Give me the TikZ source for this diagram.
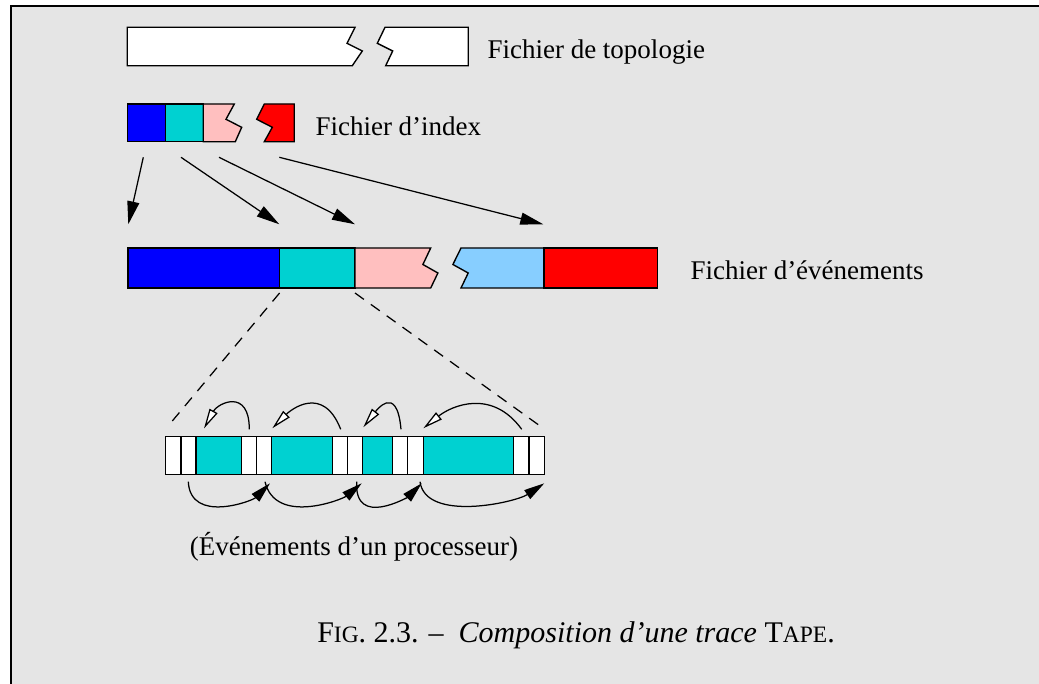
\documentclass[tikz,border=0pt]{standalone}
\usepackage{fontspec}
\setmainfont{Liberation Serif}
\usepackage{tikz}
\usetikzlibrary{calc,arrows.meta}

\definecolor{bggray}{HTML}{E5E5E5}
\definecolor{evblue}{HTML}{0000FF}
\definecolor{evcyan}{HTML}{00D1D1}
\definecolor{evpink}{HTML}{FFBFBF}
\definecolor{evsky}{HTML}{87CEFF}
\definecolor{evred}{HTML}{FF0000}
\newcommand\fakesc[1]{{\fontsize{9.4}{11}\selectfont #1}}

\begin{document}
\begin{tikzpicture}[x=0.4pt,y=-0.4pt,
	piece/.style={draw=black,line width=0.55pt},
	lbl/.style={inner sep=0pt,font=\fontsize{10.8}{13}\selectfont},
	link/.style={line width=0.5pt,-{Triangle[length=9.2pt,width=4.8pt]}},
	fwd/.style={line width=0.5pt,-{Triangle[length=8.2pt,width=4.2pt]}},
	back/.style={line width=0.5pt,-{Triangle[fill=white,length=8pt,width=3.6pt]}}]
				\useasboundingbox (0,0) rectangle (1039,684);
				%% grey page with its frame
				\fill[bggray] (11,6) rectangle (1039,684);
				\draw[line width=0.8pt] (11,684)--(11,6)--(1039,6);
				%top file, cut in two
				\filldraw[piece,fill=white] (127.3,27.3)--(355,27.3)--(347,43.3)--(362.3,51)--(352.3,65.7)--(127.3,65.7)--cycle;
				\filldraw[piece,fill=white] (385,27.3)--(468.3,27.3)--(468.3,65.7)--(385.7,65.7)--(392.7,51)--(377.3,43.3)--cycle;
				\node[lbl,anchor=base west] (topo) at (487,59){Fichier de topologie};
				%% index file
				\filldraw[piece,fill=evblue] (127.3,104) rectangle (165.7,141.7);
				\filldraw[piece,fill=evcyan] (165.7,104) rectangle (203.3,141.7);
				\filldraw[piece,fill=evpink] (203.3,104)--(234.3,104)--(226,119.3)--(241.7,127.3)--(235.3,141.7)--(203.3,141.7)--cycle;
				\filldraw[piece,fill=evred] (264.3,104)--(294.3,104)--(294.3,141.7)--(264.3,141.7)--(272.3,127.3)--(256.7,119.3)--cycle;
				\node[lbl,anchor=base west] (index) at (315,135.7){Fichier d’index};
				%% event file
				\filldraw[piece,fill=evblue] (127.9,248) rectangle (279.6,288);
				\filldraw[piece,fill=evcyan] (279.6,248) rectangle (355,288);
				\filldraw[piece,fill=evpink] (355,248)--(430.7,248)--(422.9,264.5)--(437.9,273)--(430.7,288)--(355,288)--cycle;
				\filldraw[piece,fill=evsky] (461,248)--(543.9,248)--(543.9,288)--(461,288)--(468.2,273)--(452.9,264.5)--cycle;
				\filldraw[piece,fill=evred] (543.9,248) rectangle (657.5,288);
				\node[lbl,anchor=base west] (events) at (690,279.5){Fichier d’événements};
				%% arrows from the index to the events
				\coordinate (i1) at (143.3,157.3); \coordinate (e1) at (128.3,224.3);
				\coordinate (i2) at (181,157.3);   \coordinate (e2) at (279.3,224.3);
				\coordinate (i3) at (219,157.3);   \coordinate (e3) at (355,224.3);
				\coordinate (i4) at (279.3,157.3); \coordinate (e4) at (543.3,224.3);
				\foreach \i in {1,2,3,4}{
					\draw[link] (i\i)--(e\i);
					}
				%% zoom on one block
				\coordinate (zl) at (279.6,293); \coordinate (zr) at (355,293);
				\coordinate (pl) at (171.7,421.7); \coordinate (pr) at (543.3,428.3);
				\draw[line width=0.5pt,dash pattern=on 4.4pt off 3.4pt] (zl)--(pl);
				\draw[line width=0.5pt,dash pattern=on 4.4pt off 3.4pt] (zr)--(pr);
				%% the events of one processor
				\foreach \xa/\xb/\col in {165.7/181/white,181/196/white,196/241.7/evcyan,241.7/256.7/white,
					256.7/271.7/white,271.7/332.3/evcyan,332.3/347.3/white,347.3/362.3/white,362.3/392.7/evcyan,
					392.7/407.7/white,407.7/423.3/white,423.3/513.3/evcyan,513.3/529/white,529/544.3/white}{
					\filldraw[piece,fill=\col] (\xa,436.7) rectangle (\xb,474.3);
					}
				%% backward links, above
				\draw[back] (249.3,429.3) .. controls (249.3,388) and (218,403) .. (204,428.5);
				\draw[back] (340.7,429.3) .. controls (323,384) and (290.6,410) .. (272.3,428.3);
				\draw[back] (401,429.3) .. controls (396.8,382) and (375.2,412) .. (363.3,427.3);
				\draw[back] (521.7,429.3) .. controls (491.7,388) and (451.3,406) .. (423.3,428.3);
				%% forward links, below
				\draw[fwd] (188.3,481.7) .. controls (190.4,524) and (252.2,501.1) .. (270,483.3);
				\draw[fwd] (265,481.7) .. controls (275.5,525.8) and (342.5,499.3) .. (361.7,483.3);
				\draw[fwd] (356.7,481.7) .. controls (353.9,529) and (408.9,496.1) .. (421.7,483.3);
				\draw[fwd] (420,481.7) .. controls (425.6,522.4) and (515.2,502.6) .. (544.3,483.3);
				\node[lbl,anchor=base] (proc) at (354,556){(Événements d’un processeur)};
				%% caption
				\node[inner sep=0pt,anchor=base,font=\fontsize{12}{15}\selectfont] (caption) at (576,643)
					{F\fakesc{IG}. 2.3. –\ \ \textit{Composition d’une trace} T\fakesc{APE}.};
				\end{tikzpicture}
\end{document}
